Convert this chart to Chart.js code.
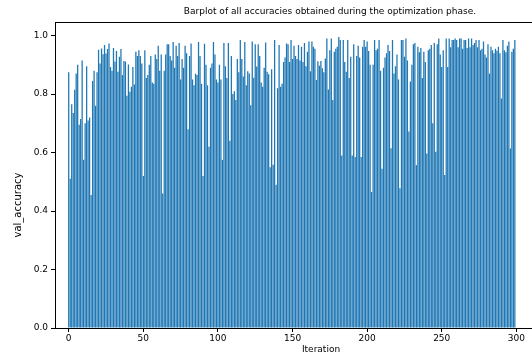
<!DOCTYPE html>
<html>
<head>
<meta charset="utf-8">
<script src="https://cdn.jsdelivr.net/npm/chart.js@4/dist/chart.umd.min.js"></script>
<style>
  html, body { margin: 0; padding: 0; background: #ffffff; overflow: hidden; }
  #wrap { width: 532px; height: 358px; position: relative; }
</style>
</head>
<body>
<div id="wrap"><canvas id="chart" width="532" height="358"></canvas></div>
<script>
// Validation accuracy recorded at every optimization iteration
const valAccuracy = [
  0.875,0.51,0.765,0.735,0.815,0.87,0.90,0.695,0.715,0.915,0.575,0.70,0.895,0.71,0.72,0.455,0.845,0.88,0.76,0.875,0.952,0.905,
  0.956,0.936,0.968,0.939,0.954,0.973,0.893,0.88,0.958,0.911,0.947,0.876,0.928,0.954,0.865,0.913,0.911,0.794,0.901,0.808,0.825,0.893,0.833,0.945,0.93,0.95,
  0.93,0.905,0.52,0.95,0.855,0.865,0.90,0.93,0.84,0.835,0.935,0.92,0.965,0.88,0.935,0.46,0.88,0.935,0.97,0.97,0.93,0.915,0.978,0.89,0.965,0.93,
  0.975,0.85,0.92,0.89,0.965,0.94,0.68,0.93,0.973,0.85,0.83,0.87,0.865,0.978,0.93,0.835,0.52,0.972,0.90,0.83,0.62,0.89,0.905,0.978,0.935,0.85,
  0.84,0.90,0.85,0.575,0.975,0.895,0.855,0.975,0.64,0.93,0.80,0.81,0.78,0.92,0.875,0.985,0.92,0.86,0.978,0.83,0.878,0.87,0.762,0.98,0.856,0.97,
  0.894,0.97,0.93,0.84,0.825,0.89,0.976,0.876,0.868,0.55,0.885,0.558,0.985,0.49,0.82,0.968,0.825,0.835,0.91,0.925,0.973,0.97,0.91,0.985,0.92,0.965,
  0.93,0.92,0.968,0.915,0.962,0.91,0.975,0.895,0.945,0.98,0.878,0.98,0.962,0.955,0.848,0.912,0.897,0.913,0.888,0.875,0.922,0.99,0.816,0.95,0.99,0.78,
  0.945,0.955,0.962,0.995,0.985,0.59,0.985,0.91,0.876,0.985,0.855,0.928,0.59,0.97,0.585,0.93,0.965,0.925,0.585,0.962,0.985,0.962,0.98,0.947,0.90,0.465,
  0.90,0.985,0.95,0.955,0.985,0.88,0.545,0.89,0.925,0.94,0.968,0.947,0.615,0.985,0.87,0.895,0.935,0.85,0.478,0.985,0.985,0.928,0.99,0.915,0.672,0.843,
  0.90,0.97,0.975,0.557,0.962,0.943,0.958,0.855,0.945,0.91,0.597,0.95,0.955,0.968,0.70,0.975,0.603,0.97,0.99,0.935,0.893,0.95,0.523,0.99,0.893,0.99,0.96,
  0.985,0.985,0.99,0.985,0.96,0.99,0.99,0.955,0.985,0.985,0.958,0.99,0.96,0.99,0.968,0.975,0.985,0.96,0.985,0.95,0.955,0.98,0.935,0.925,0.97,0.87,
  0.962,0.95,0.94,0.955,0.948,0.962,0.94,0.785,0.985,0.95,0.943,0.965,0.98,0.614,0.945,0.955,0.985
];
const yTicks = [0.0, 0.2, 0.4, 0.6, 0.8, 1.0];
const xTicks = [0, 50, 100, 150, 200, 250, 300];

const titleText = 'Barplot of all accuracies obtained during the optimization phase.';
const xLabel = 'Iteration';
const yLabel = 'val_accuracy';
const FONT = '"DejaVu Sans", sans-serif';

// Bars are placed at their iteration number on a linear axis
const points = valAccuracy.map((v, i) => ({ x: i, y: v }));

// Frame line along the top of the plot, plus title and axis labels
const framePlugin = {
  id: 'frame',
  afterDraw(chart) {
    const { ctx, chartArea } = chart;
    ctx.save();
    ctx.strokeStyle = '#000';
    ctx.lineWidth = 1;
    ctx.beginPath();
    ctx.moveTo(chartArea.left, Math.round(chartArea.top) + 0.5);
    ctx.lineTo(chartArea.right, Math.round(chartArea.top) + 0.5);
    ctx.stroke();

    ctx.fillStyle = '#000';
    ctx.textAlign = 'center';
    ctx.textBaseline = 'middle';
    ctx.font = '9px ' + FONT;
    ctx.fillText(titleText, 330, 12);

    ctx.font = '9px ' + FONT;
    ctx.fillText(xLabel, 321, 350);

    ctx.font = '10px ' + FONT;
    ctx.translate(18, 205);
    ctx.rotate(-Math.PI / 2);
    ctx.fillText(yLabel, 0, 0);
    ctx.restore();
  }
};

new Chart(document.getElementById('chart'), {
  type: 'bar',
  data: {
    datasets: [{
      data: points,
      backgroundColor: '#1f77b4',
      borderWidth: 0,
      categoryPercentage: 1.0,
      barPercentage: 0.85
    }]
  },
  options: {
    responsive: false,
    animation: false,
    devicePixelRatio: 1,
    layout: { padding: { top: 22, right: 0, left: 0, bottom: 0 } },
    plugins: { legend: { display: false }, tooltip: { enabled: false }, title: { display: false } },
    scales: {
      x: {
        type: 'linear',
        offset: false,
        min: -9.2,
        max: 310.5,
        afterFit(scale) { scale.height = 30; },
        afterBuildTicks(scale) { scale.ticks = xTicks.map(v => ({ value: v })); },
        grid: { offset: false, drawOnChartArea: false, drawTicks: true, tickLength: 4, color: '#000' },
        border: { display: true, color: '#000', width: 1 },
        ticks: { color: '#000', font: { family: FONT, size: 9 }, padding: 1, maxRotation: 0, includeBounds: false,
                 callback: v => String(v) },
        title: { display: false }
      },
      y: {
        min: 0,
        max: 1.0465,
        afterFit(scale) { scale.width = 55; },
        afterBuildTicks(scale) { scale.ticks = yTicks.map(v => ({ value: v })); },
        grid: { drawOnChartArea: false, drawTicks: true, tickLength: 4, color: '#000' },
        border: { display: true, color: '#000', width: 1 },
        ticks: { color: '#000', font: { family: FONT, size: 9 }, padding: 3, callback: v => v.toFixed(1) },
        title: { display: false }
      }
    }
  },
  plugins: [framePlugin]
});
</script>
</body>
</html>
